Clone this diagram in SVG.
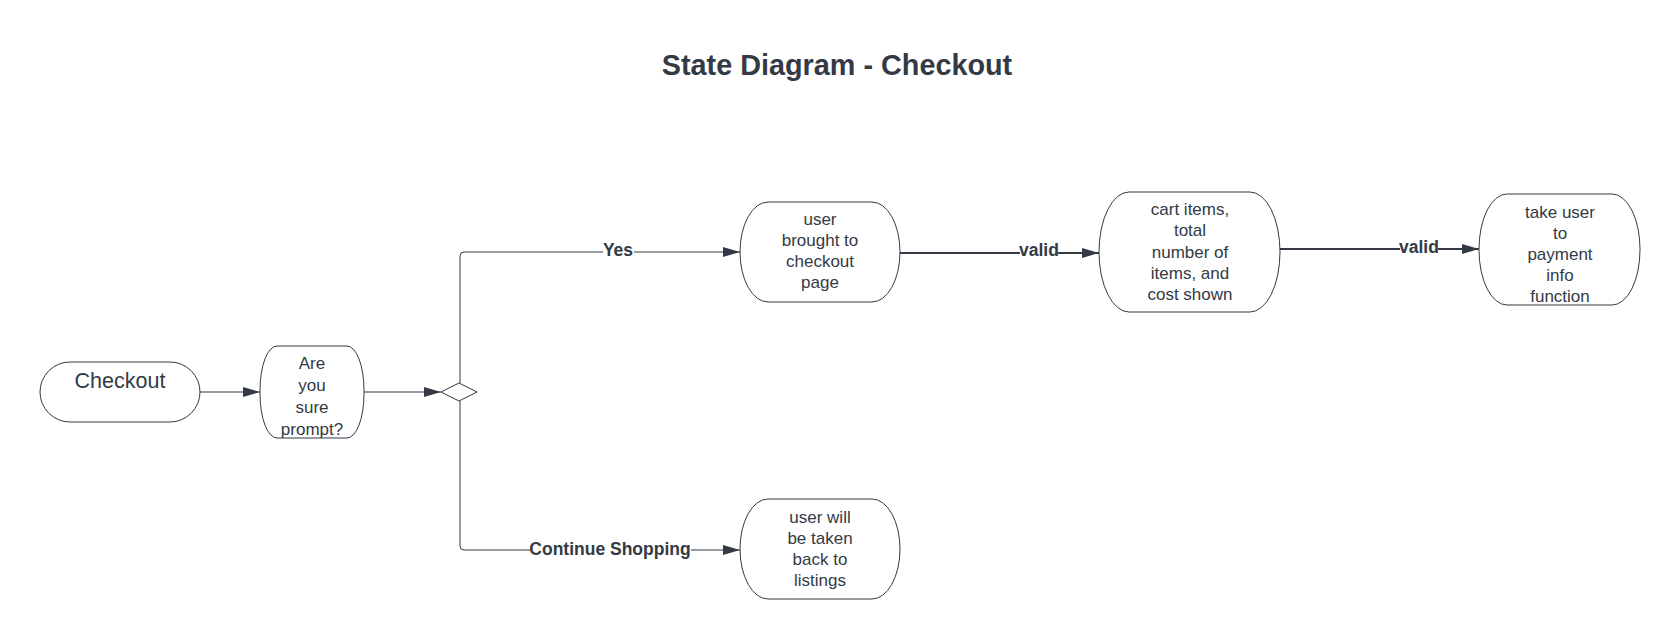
<svg xmlns="http://www.w3.org/2000/svg" width="1680" height="640" viewBox="0 0 1680 640">
<style>
.node{fill:#ffffff;stroke:#333a45;stroke-width:1}
.t{font-family:"Liberation Sans",Arial,sans-serif;font-size:17px;fill:#333a45;text-anchor:middle}
.lbl{font-family:"Liberation Sans",Arial,sans-serif;font-size:17.5px;font-weight:bold;fill:#333a45;text-anchor:middle}
.title{font-family:"Liberation Sans",Arial,sans-serif;font-size:28.8px;font-weight:bold;fill:#333a45;text-anchor:middle}
.c{fill:none;stroke:#333a45;stroke-width:1}
.c2{fill:none;stroke:#333a45;stroke-width:2}
.bg{fill:#ffffff}
</style>
<defs>
<marker id="arr" markerUnits="userSpaceOnUse" markerWidth="18" markerHeight="11" refX="17" refY="5" orient="auto">
<path d="M0,0 L17,5 L0,10 z" fill="#333a45"/>
</marker>
</defs>
<rect width="1680" height="640" fill="#ffffff"/>
<text class="title" x="837" y="75">State Diagram - Checkout</text>

<g id="connectors">
<path class="c" d="M200,392 H260" marker-end="url(#arr)"/>
<path class="c" d="M364,392 H441" marker-end="url(#arr)"/>
<path class="c" d="M460,383 V256 Q460,252 464,252 H740" marker-end="url(#arr)"/>
<path class="c" d="M460,401 V546 Q460,550 464,550 H740" marker-end="url(#arr)"/>
<path class="c2" d="M900,253 H1099" marker-end="url(#arr)"/>
<path class="c2" d="M1280,249 H1479" marker-end="url(#arr)"/>
<rect class="bg" x="603" y="242" width="31" height="18"/>
<text class="lbl" x="618" y="256">Yes</text>
<rect class="bg" x="530" y="540" width="161" height="18"/>
<text class="lbl" x="610" y="555">Continue Shopping</text>
<rect class="bg" x="1020" y="242" width="38" height="18"/>
<text class="lbl" x="1039" y="256">valid</text>
<rect class="bg" x="1400" y="239" width="38" height="18"/>
<text class="lbl" x="1419" y="253">valid</text>
</g>

<g id="checkout">
<rect class="node" x="40" y="362" width="160" height="60" rx="30" ry="30"/>
<text class="t" x="120" y="388" style="font-size:21.5px">Checkout</text>
</g>

<g id="are-you-sure">
<rect class="node" x="260" y="346" width="104" height="92" rx="17" ry="44"/>
<text class="t" x="312" y="369">Are</text>
<text class="t" x="312" y="391">you</text>
<text class="t" x="312" y="413">sure</text>
<text class="t" x="312" y="435">prompt?</text>
</g>

<g id="decision">
<path class="node" d="M441,392 L459,383 L477,392 L459,401 Z"/>
</g>

<g id="brought-to-checkout">
<rect class="node" x="740" y="202" width="160" height="100" rx="28" ry="50"/>
<text class="t" x="820" y="225">user</text>
<text class="t" x="820" y="246">brought to</text>
<text class="t" x="820" y="267">checkout</text>
<text class="t" x="820" y="288">page</text>
</g>

<g id="back-to-listings">
<rect class="node" x="740" y="499" width="160" height="100" rx="28" ry="50"/>
<text class="t" x="820" y="523">user will</text>
<text class="t" x="820" y="544">be taken</text>
<text class="t" x="820" y="565">back to</text>
<text class="t" x="820" y="586">listings</text>
</g>

<g id="cart-items">
<rect class="node" x="1099" y="192" width="181" height="120" rx="30" ry="60"/>
<text class="t" x="1190" y="215">cart items,</text>
<text class="t" x="1190" y="236">total</text>
<text class="t" x="1190" y="258">number of</text>
<text class="t" x="1190" y="279">items, and</text>
<text class="t" x="1190" y="300">cost shown</text>
</g>

<g id="payment-info">
<rect class="node" x="1479" y="194" width="161" height="111" rx="28" ry="55"/>
<text class="t" x="1560" y="218">take user</text>
<text class="t" x="1560" y="239">to</text>
<text class="t" x="1560" y="260">payment</text>
<text class="t" x="1560" y="281">info</text>
<text class="t" x="1560" y="302">function</text>
</g>
</svg>
